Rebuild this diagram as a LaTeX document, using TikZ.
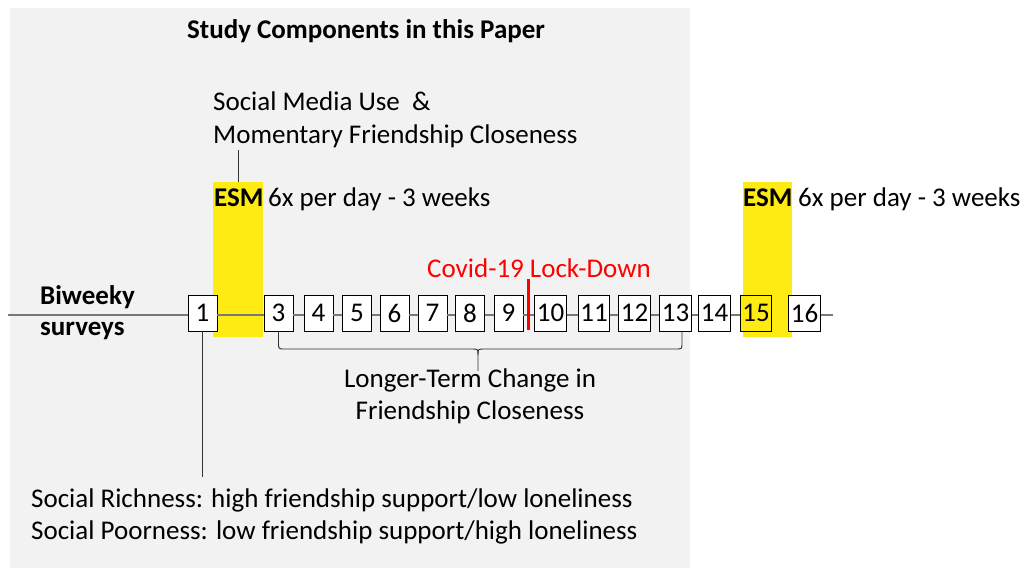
\documentclass[tikz,border=0pt]{standalone}
\usepackage{fontspec}
\setmainfont{Carlito}
\definecolor{panelgray}{RGB}{242,242,242}
\definecolor{esmyellow}{RGB}{255,235,20}
\definecolor{linegray}{RGB}{120,120,120}
\definecolor{covidred}{RGB}{255,0,0}
\begin{document}
\begin{tikzpicture}[x=1pt,y=-1pt,
  txt/.style={inner sep=0pt,font=\fontsize{27}{32}\selectfont},
  boldtxt/.style={txt,font=\fontsize{27}{32}\selectfont\bfseries},
  wave/.style={draw=black,fill=white,line width=0.9pt,minimum width=29pt,minimum height=36pt,inner xsep=2pt,inner ysep=0pt,font=\fontsize{27}{32}\selectfont},
  band/.style={fill=esmyellow,draw=none,inner sep=0pt},
  tl/.style={draw=linegray,line width=1.4pt},
  thin/.style={draw=black!80,line width=0.9pt}]
\useasboundingbox (0,0) rectangle (1034,568);
\fill[white] (0,0) rectangle (1034,568);
% panel
\node[fill=panelgray,inner sep=0pt,minimum width=680pt,minimum height=560pt,anchor=north west] (panel) at (10,8) {};
% yellow bands
\node[band,minimum width=50pt,minimum height=155pt,anchor=north west] (esmA) at (213,182) {};
\node[band,minimum width=49pt,minimum height=155pt,anchor=north west] (esmB) at (743,182) {};
% title
\node[boldtxt,anchor=base] (title) at (366,38) {Study Components in this Paper};
% ESM text
\node[txt,anchor=base west] (sm1) at (213,110) {Social Media Use \ \&};
\node[txt,anchor=base west] (sm2) at (213,143) {Momentary Friendship Closeness};
\node[boldtxt,anchor=base west] (esmlabA) at (214,206) {ESM};
\node[txt,anchor=base west] (esmtA) at (268,206) {6x per day - 3 weeks};
\node[boldtxt,anchor=base west] (esmlabB) at (743,206) {ESM};
\node[txt,anchor=base west] (esmtB) at (798,206) {6x per day - 3 weeks};
\coordinate (smtick) at (238,150);
\draw[thin] (smtick) -- (smtick |- esmA.north);
% biweekly label
\node[boldtxt,anchor=base west] (bw1) at (40,304) {Biweeky};
\node[boldtxt,anchor=base west] (bw2) at (40,335) {surveys};
% covid
\node[txt,anchor=base west,text=covidred] (covid) at (427,277) {Covid-19 Lock-Down};
% boxes
\node[wave] (b1) at (202.5,313) {1};
\node[wave] (b3) at (278.5,313) {3};
\node[wave] (b4) at (318.5,313) {4};
\node[wave] (b5) at (357,313) {5};
\node[wave] (b6) at (394.5,313) {6};
\node[wave] (b7) at (432.5,313) {7};
\node[wave] (b8) at (470,313) {8};
\node[wave] (b9) at (508.5,313) {9};
\node[wave] (b10) at (550.5,313) {10};
\node[wave] (b11) at (594,313) {11};
\node[wave] (b12) at (634.5,313) {12};
\node[wave] (b13) at (675.5,313) {13};
\node[wave] (b14) at (714.5,313) {14};
\node[wave,fill=esmyellow] (b15) at (756,313) {15};
\node[wave] (b16) at (804.5,313) {16};
% timeline
\coordinate (tstart) at (8,315);
\coordinate (tend) at (833,315);
\begin{scope}[on background layer/.style={}]
\end{scope}
\draw[tl] (tstart) -- (tstart -| b1.west);
\draw[tl] (b1.east |- tstart) -- (b3.west |- tstart);
\foreach \a/\b in {3/4,4/5,5/6,6/7,7/8,8/9,9/10,10/11,11/12,12/13,13/14,14/15}{
  \draw[tl] (b\a.east |- tstart) -- (b\b.west |- tstart);
}
\draw[tl] (b16.east |- tstart) -- (tend);
% redraw boxes on top of lines (so lines stop at boxes)
% covid marker
\coordinate (ctop) at (528,279);
\coordinate (cbot) at (528,330);
\draw[covidred,line width=3pt] (ctop) -- (cbot);
% brace
\coordinate (bl) at (b3.south);
\coordinate (br) at (682,332);
\coordinate (bm) at (478,355);
\coordinate (btip) at (478,371);
\draw[thin] (bl) -- (278.5,343) .. controls (278.5,349) .. (284.5,349) -- (472,349) .. controls (478,349) .. (bm) -- (btip);
\draw[thin] (br) -- (682,343) .. controls (682,349) .. (676,349) -- (484,349) .. controls (478,349) .. (bm);
\node[txt,anchor=base] (lt1) at (470,387) {Longer-Term Change in};
\node[txt,anchor=base] (lt2) at (470,419) {Friendship Closeness};
% social richness
\coordinate (srtick) at (202.5,477);
\draw[thin] (b1.south) -- (srtick);
\node[txt,anchor=base west] (sr1) at (31,507) {Social Richness: high friendship support/low loneliness};
\node[txt,anchor=base west] (sr2) at (31,539) {Social Poorness: low friendship support/high loneliness};
\end{tikzpicture}
\end{document}
